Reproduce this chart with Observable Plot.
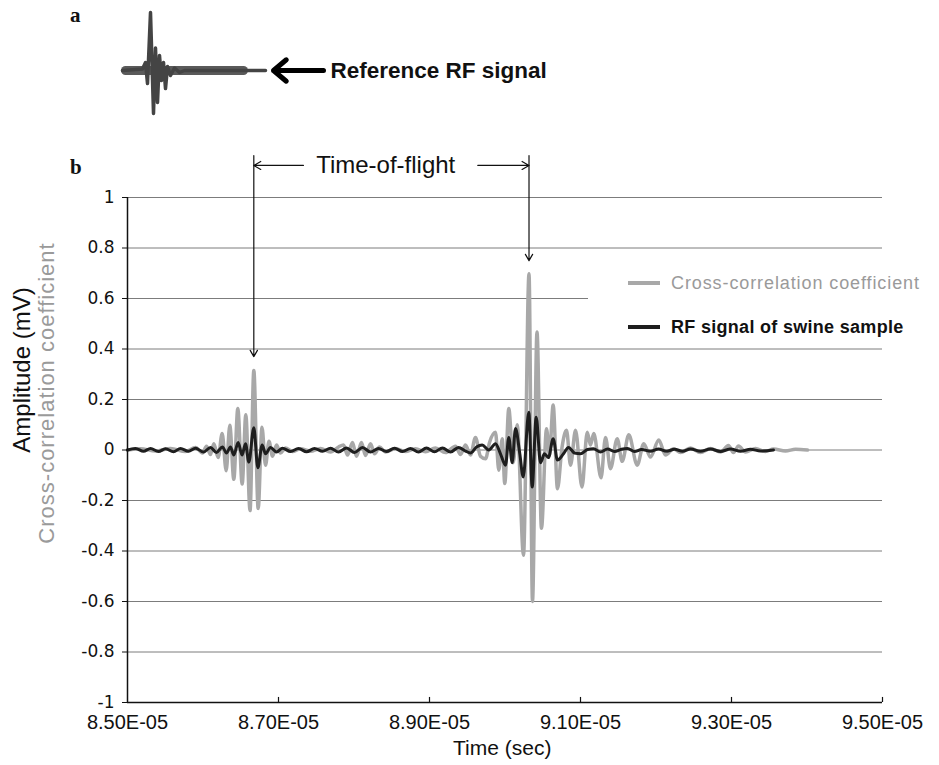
<!DOCTYPE html>
<html><head><meta charset="utf-8">
<script src="https://cdn.jsdelivr.net/npm/d3@7"></script>
<script src="https://cdn.jsdelivr.net/npm/@observablehq/plot@0.6"></script>
<style>
body{margin:0;background:#fff;}
#wrap{position:relative;width:939px;height:765px;overflow:hidden;background:#fff;font-family:"Liberation Sans",Arial,sans-serif;color:#111;}
.abs{position:absolute;white-space:nowrap;}
.vlab{position:absolute;width:440px;height:30px;line-height:30px;text-align:center;transform:rotate(-90deg);white-space:nowrap;}
</style></head><body><div id="wrap"></div>
<script>
// ---- data (time in microseconds) ----
const ccTime = [85.000,85.172,85.371,85.570,85.768,85.901,85.993,86.046,86.099,86.143,
86.201,86.254,86.307,86.355,86.408,86.461,86.519,86.567,86.623,86.673,
86.731,86.781,86.828,86.874,86.921,86.974,87.026,87.093,87.185,87.291,
87.424,87.556,87.689,87.795,87.861,87.914,87.980,88.033,88.099,88.152,
88.219,88.272,88.338,88.417,88.550,88.682,88.815,88.947,89.079,89.212,
89.344,89.411,89.477,89.543,89.609,89.675,89.742,89.795,89.874,89.918,
89.963,89.997,90.050,90.109,90.162,90.245,90.318,90.364,90.424,90.483,
90.550,90.589,90.638,90.695,90.755,90.815,90.868,90.934,91.020,91.089,
91.132,91.176,91.272,91.331,91.397,91.486,91.552,91.640,91.751,91.838,
91.927,92.037,92.126,92.232,92.325,92.457,92.589,92.722,92.854,92.960,
93.026,93.093,93.185,93.318,93.450,93.556,93.715,93.848,94.007];
const ccValue = [0,0.005,-0.004,0.006,-0.006,0.01,-0.012,0.015,-0.018,0.025,
-0.03,0.065,-0.082,0.098,-0.116,0.164,-0.135,0.14,-0.24,0.315,
-0.232,0.09,-0.06,0.035,-0.025,0.02,-0.012,0.008,-0.006,0.005,
-0.005,0.006,-0.008,0.012,0.02,-0.02,0.03,-0.025,0.03,-0.022,
0.025,-0.015,0.012,-0.008,0.006,-0.006,0.005,-0.007,0.008,-0.01,
0.015,-0.018,0.02,-0.02,0.05,-0.025,-0.035,0.03,0.07,-0.08,
0.045,-0.133,0.164,-0.05,0.1,-0.417,0.698,-0.6,0.467,-0.31,
0.084,-0.02,0.178,-0.153,0.01,0.078,-0.06,0.078,-0.147,0.07,
0.02,0.065,-0.11,0.05,-0.074,0.045,-0.045,0.06,-0.06,0.025,
-0.028,0.04,-0.02,0.005,-0.01,0.008,-0.01,0.006,-0.008,0.018,
-0.01,0.016,-0.008,0.006,-0.006,0.004,-0.004,0.003,0];

const rfTime = [85.000,85.106,85.212,85.305,85.411,85.503,85.609,85.702,85.808,85.901,
86.007,86.099,86.179,86.258,86.311,86.364,86.408,86.466,86.517,86.563,
86.607,86.673,86.726,86.784,86.828,86.894,86.974,87.053,87.159,87.265,
87.371,87.477,87.583,87.689,87.795,87.901,88.007,88.113,88.219,88.325,
88.430,88.536,88.642,88.748,88.854,88.960,89.066,89.172,89.278,89.384,
89.477,89.543,89.623,89.698,89.785,89.874,89.940,90.007,90.050,90.095,
90.139,90.196,90.241,90.315,90.360,90.413,90.470,90.523,90.576,90.638,
90.695,90.775,90.841,90.921,91.000,91.093,91.172,91.265,91.358,91.450,
91.543,91.623,91.715,91.808,91.927,92.033,92.139,92.245,92.351,92.457,
92.589,92.722,92.854,92.987,93.119,93.252,93.384,93.556];
const rfValue = [0,0.006,-0.005,0.006,-0.006,0.005,-0.007,0.006,-0.005,0.007,
-0.008,0.01,-0.01,0.012,-0.012,0.012,-0.02,0.03,-0.02,0.025,
-0.048,0.088,-0.07,0.02,-0.015,0.01,-0.008,0.007,-0.006,0.006,
-0.007,0.006,-0.005,0.007,-0.008,0.008,-0.01,0.01,-0.008,0.006,
-0.006,0.007,-0.006,0.006,-0.008,0.008,-0.007,0.008,-0.008,0.01,
-0.004,-0.012,0.012,0.02,0,0.025,-0.015,-0.06,0.05,-0.05,
0.085,-0.015,-0.107,0.15,-0.147,0.13,-0.05,-0.015,-0.03,0.045,
-0.04,-0.015,0.01,-0.012,-0.015,0.002,0.005,-0.008,0.004,-0.006,
0.003,0.006,-0.006,0.002,-0.005,0.004,-0.005,0.003,-0.005,0.004,
-0.005,0.004,-0.006,0.004,-0.005,0.003,-0.004,0];

// reference RF signal (inset a), sample index vs relative amplitude
const refSample = [0,20,23,25,28,31,33,35,37,39,41,43,45,48,52,57,62,143];
const refAmp = [0,0.03,0.16,-0.26,1.16,-0.86,0.45,-0.64,0.3,-0.2,0.16,-0.36,0.08,-0.1,0.05,-0.04,0,0];
const refBand = [3,121];

const xTickValues = [85,87,89,91,93,95];
const xTickLabels = ["8.50E-05","8.70E-05","8.90E-05","9.10E-05","9.30E-05","9.50E-05"];
const yTickValues = [1,0.8,0.6,0.4,0.2,0,-0.2,-0.4,-0.6,-0.8,-1];
const yTickLabels = ["1","0.8","0.6","0.4","0.2","0","-0.2","-0.4","-0.6","-0.8","-1"];
const seriesNames = ["Cross-correlation coefficient","RF signal of swine sample"];
const seriesColors = ["#a8a8a8","#1e1e1e"];
const tofStart = 86.673, tofEnd = 90.318;
const tofLabelTime = 88.42;

// ---- build ----
const wrap = document.getElementById("wrap");
function add(html, style, cls) {
  const d = document.createElement("div");
  d.className = cls || "abs"; d.textContent = html; d.setAttribute("style", style);
  wrap.appendChild(d); return d;
}

// inset a
const refData = refSample.map((s,i)=>({s, a: refAmp[i]}));
const inset = Plot.plot({
  width: 600, height: 125, marginTop: 20, marginBottom: 5, marginLeft: 122, marginRight: 335,
  x: {domain: [0,143], axis: null}, y: {domain: [-1,1], axis: null},
  style: {background: "transparent", overflow: "visible", fontFamily: "Liberation Sans, Arial, sans-serif"},
  marks: [
    Plot.lineY([{s: 0, a: 0},{s: 143, a: 0}], {x: "s", y: "a", stroke: "#777", strokeWidth: 1.5}),
    Plot.lineY(refBand.map(s=>({s, a:0})), {x: "s", y: "a", stroke: "#5a5a5a", strokeWidth: 9}),
    Plot.line(refData, {x: "s", y: "a", stroke: "#444", strokeWidth: 3.5}),
    Plot.arrow([{x1: 201, x2: 151, y: 0}], {x1: "x1", x2: "x2", y1: "y", y2: "y", stroke: "#000", strokeWidth: 5, headLength: 9, headAngle: 80}),
    Plot.text(["Reference RF signal"], {x: 208, y: 0, text: d=>d, textAnchor: "start", fontSize: 22.5, fontWeight: "bold", fill: "#111"})
  ]
});
const insetBox = document.createElement("div");
insetBox.setAttribute("style","position:absolute;left:0;top:0;");
insetBox.appendChild(inset); wrap.appendChild(insetBox);

// main chart b
const cc = ccTime.map((t,i)=>({t, v: ccValue[i]}));
const rf = rfTime.map((t,i)=>({t, v: rfValue[i]}));
const main = Plot.plot({
  width: 939, height: 625,
  marginTop: 57, marginBottom: 63, marginLeft: 127, marginRight: 57,
  x: {domain: [85,95]},
  y: {domain: [-1,1]},
  style: {background: "transparent", overflow: "visible", fontFamily: "Liberation Sans, Arial, sans-serif", color: "#111"},
  marks: [
    Plot.ruleY(yTickValues.slice(0,-1), {stroke: "#7c7c7c", strokeWidth: 1}),
    Plot.line(cc, {x: "t", y: "v", stroke: seriesColors[0], strokeWidth: 3.5, curve: "monotone-x"}),
    Plot.line(rf, {x: "t", y: "v", stroke: seriesColors[1], strokeWidth: 3, curve: "monotone-x"}),
    Plot.ruleX([85], {stroke: "#111", strokeWidth: 1.5}),
    Plot.ruleY([-1], {stroke: "#111", strokeWidth: 1.5}),
    Plot.ruleX(xTickValues.slice(1), {y1: -1, y2: -0.98, stroke: "#111", strokeWidth: 1.2}),
    Plot.axisX({ticks: xTickValues, tickFormat: d => xTickLabels[xTickValues.indexOf(d)], tickSize: 0, tickPadding: 12, fontSize: 20, label: null}),
    Plot.axisY({ticks: yTickValues, tickFormat: d => yTickLabels[yTickValues.indexOf(d)], tickSize: 5, tickPadding: 8, fontSize: 17, fontFamily: "DejaVu Sans", label: null}),
    Plot.arrow([{t: tofStart, y1: 1.166, y2: 0.37}, {t: tofEnd, y1: 1.166, y2: 0.75}],
      {x1: "t", x2: "t", y1: "y1", y2: "y2", stroke: "#111", strokeWidth: 1.2, headLength: 9}),
    Plot.arrow([{x1: 87.33, x2: tofStart}, {x1: 89.64, x2: tofEnd}],
      {x1: "x1", x2: "x2", y1: () => 1.127, y2: () => 1.127, stroke: "#111", strokeWidth: 1.2, headLength: 10}),
    Plot.text(["Time-of-flight"], {x: tofLabelTime, y: 1.127, text: d=>d, fontSize: 24, fill: "#111"})
  ]
});
const mainBox = document.createElement("div");
mainBox.setAttribute("style","position:absolute;left:0;top:140px;");
mainBox.appendChild(main); wrap.appendChild(mainBox);

// panel letters
add("a", "left:70px;top:3px;font:bold 21px 'Liberation Serif',serif;");
add("b", "left:70px;top:155px;font:bold 21px 'Liberation Serif',serif;");

// axis titles
add("Amplitude (mV)", "left:-198px;top:355px;font-size:24px;color:#111;", "vlab");
add("Cross-correlation coefficient", "left:-173px;top:378px;font-size:22px;letter-spacing:1px;color:#9a9a9a;", "vlab");
add("Time (sec)", "left:453px;top:736px;font-size:21px;color:#111;");

// legend (overlay box)
const leg = document.createElement("div");
leg.setAttribute("style","position:absolute;left:588px;top:258px;width:300px;height:82px;background:#fff;");
seriesNames.forEach((name,i)=>{
  const cy = i===0 ? 25 : 69;
  const sw = document.createElement("div");
  sw.setAttribute("style",`position:absolute;left:40px;top:${cy-2}px;width:32px;height:4px;background:${seriesColors[i]};`);
  const tx = document.createElement("div");
  tx.textContent = name;
  tx.setAttribute("style",`position:absolute;left:83px;top:${cy-12}px;height:24px;line-height:24px;white-space:nowrap;font-size:18px;`+
    (i===0 ? "color:#9a9a9a;letter-spacing:0.9px;" : "color:#111;font-weight:bold;letter-spacing:0.3px;"));
  leg.appendChild(sw); leg.appendChild(tx);
});
wrap.appendChild(leg);
</script></body></html>
